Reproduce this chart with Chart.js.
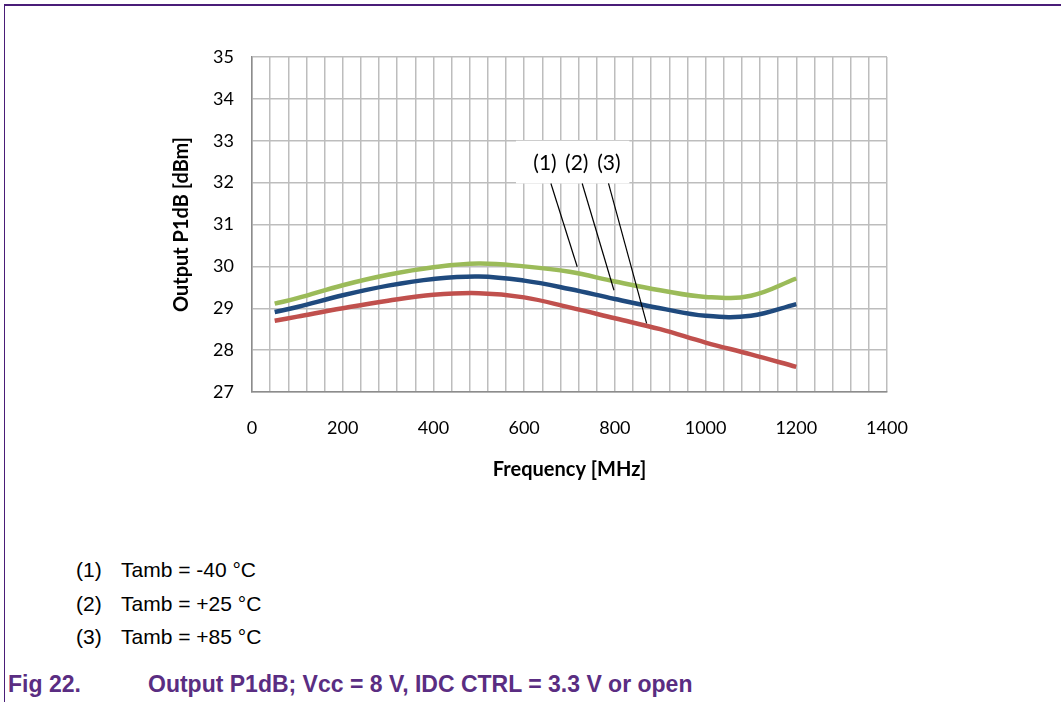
<!DOCTYPE html>
<html>
<head>
<meta charset="utf-8">
<script src="https://cdn.jsdelivr.net/npm/chart.js@4/dist/chart.umd.min.js"></script>
<style>
  body { margin: 0; background: #fff; }
  #page { position: relative; width: 1061px; height: 702px; overflow: hidden; }
  #frame { position: absolute; left: 4px; top: 4px; right: -10px; bottom: -10px;
           border-top: 2px solid #4a1d78; border-left: 1px solid #4a1d78; }
  #chartBox { position: absolute; left: 0; top: 0; width: 1061px; height: 500px; }
  .note { position: absolute; font-family: "Liberation Sans", Arial, sans-serif; font-size: 21px; color: #000; }
  .note span { position: absolute; white-space: nowrap; }
  .cap { position: absolute; top: 671px; font-family: "Liberation Sans", Arial, sans-serif;
         font-size: 23px; font-weight: bold; color: #5a2d82; white-space: nowrap; }
</style>
</head>
<body>
<div id="page">
  <div id="frame"></div>
  <div id="chartBox"><canvas id="p1dbChart" width="1061" height="500"></canvas></div>
  <div class="note" style="left:76px; top:558px;"><span>(1)</span><span style="left:45px">Tamb = -40 °C</span></div>
  <div class="note" style="left:76px; top:592px;"><span>(2)</span><span style="left:45px">Tamb = +25 °C</span></div>
  <div class="note" style="left:76px; top:625px;"><span>(3)</span><span style="left:45px">Tamb = +85 °C</span></div>
  <div class="cap" style="left:8px;">Fig 22.</div>
  <div class="cap" style="left:148px;">Output P1dB; Vcc = 8 V, IDC CTRL = 3.3 V or open</div>
</div>
<script>
// Frequenze (MHz) e P1dB in uscita (dBm) per le tre temperature
const freqs      = [50, 100, 200, 300, 400, 500, 600, 700, 800, 900, 1000, 1100, 1200];
const p1dbMinus40 = [29.11, 29.24, 29.55, 29.80, 29.98, 30.07, 30.00, 29.87, 29.64, 29.43, 29.27, 29.30, 29.71];
const p1dbPlus25  = [28.91, 29.03, 29.31, 29.54, 29.70, 29.76, 29.66, 29.46, 29.22, 29.00, 28.82, 28.82, 29.10];
const p1dbPlus85  = [28.70, 28.80, 29.00, 29.18, 29.32, 29.36, 29.26, 29.02, 28.76, 28.50, 28.18, 27.90, 27.60];

// Callout "(1) (2) (3)" con linee guida (coordinate in unità dati)
const calloutLabels = ['(1)', '(2)', '(3)'];
const calloutLabelX = [646, 716, 787];
const leaderStartX  = [659, 728, 786];
const leaderEnd     = [[717, 29.99], [798, 29.43], [870, 28.64]];

const toXY = (ys) => freqs.map((f, i) => ({ x: f, y: ys[i] }));

const calloutPlugin = {
    id: 'callout',
    afterDatasetsDraw(chart) {
        const { ctx, scales: { x, y } } = chart;
        ctx.save();
        // riquadro bianco sopra la griglia
        const left = x.getPixelForValue(582), right = x.getPixelForValue(832);
        const top = y.getPixelForValue(33.0), bottom = y.getPixelForValue(31.98);
        ctx.fillStyle = '#fff';
        ctx.fillRect(left, top, right - left, bottom - top);

        ctx.fillStyle = '#000';
        ctx.font = '21px Lato';
        ctx.textAlign = 'center';
        ctx.textBaseline = 'middle';
        calloutLabels.forEach((t, i) => {
            ctx.fillText(t, x.getPixelForValue(calloutLabelX[i]), y.getPixelForValue(32.46));
        });

        ctx.strokeStyle = '#000';
        ctx.lineWidth = 1.2;
        leaderEnd.forEach((end, i) => {
            ctx.beginPath();
            ctx.moveTo(x.getPixelForValue(leaderStartX[i]), bottom);
            ctx.lineTo(x.getPixelForValue(end[0]), y.getPixelForValue(end[1]));
            ctx.stroke();
        });
        ctx.restore();
    }
};

const lineDs = (label, ys, color) => ({
    label,
    data: toXY(ys),
    borderColor: color,
    backgroundColor: color,
    borderWidth: 4.5,
    pointRadius: 0,
    tension: 0.4,
    fill: false
});

new Chart(document.getElementById('p1dbChart').getContext('2d'), {
    type: 'line',
    data: {
        datasets: [
            lineDs('Tamb = -40 °C', p1dbMinus40, '#9bbb59'),
            lineDs('Tamb = +25 °C', p1dbPlus25, '#1f4a7e'),
            lineDs('Tamb = +85 °C', p1dbPlus85, '#c0504d')
        ]
    },
    options: {
        responsive: false,
        animation: false,
        layout: { padding: { left: 160, right: 174, top: 57, bottom: 8 } },
        plugins: { legend: { display: false }, tooltip: { enabled: false } },
        scales: {
            x: {
                type: 'linear',
                min: 0, max: 1400,
                afterFit: (s) => { s.height = 100; },
                ticks: {
                    stepSize: 40,
                    autoSkip: false,
                    maxRotation: 0,
                    padding: 25,
                    color: '#000',
                    font: { family: 'Lato', size: 18 },
                    callback: (v) => (v % 200 === 0 ? v : '')
                },
                grid: { color: '#bdbdbd', lineWidth: 1.5, drawTicks: false },
                border: { color: '#8c8c8c', width: 1.5 },
                title: {
                    display: true,
                    text: 'Frequency [MHz]',
                    color: '#000',
                    font: { family: 'Lato', size: 20, weight: 'bold' },
                    padding: { top: 0, bottom: 10 }
                }
            },
            y: {
                min: 27, max: 35,
                afterFit: (s) => { s.width = 92; },
                ticks: {
                    stepSize: 1,
                    padding: 18,
                    color: '#000',
                    font: { family: 'Lato', size: 18 }
                },
                grid: { color: '#bdbdbd', lineWidth: 1.5, drawTicks: false },
                border: { color: '#8c8c8c', width: 1.5 },
                title: {
                    display: true,
                    text: 'Output P1dB [dBm]',
                    color: '#000',
                    font: { family: 'Lato', size: 20, weight: 'bold' },
                    padding: { top: 10, bottom: 0 }
                }
            }
        }
    },
    plugins: [calloutPlugin]
});
</script>
</body>
</html>
